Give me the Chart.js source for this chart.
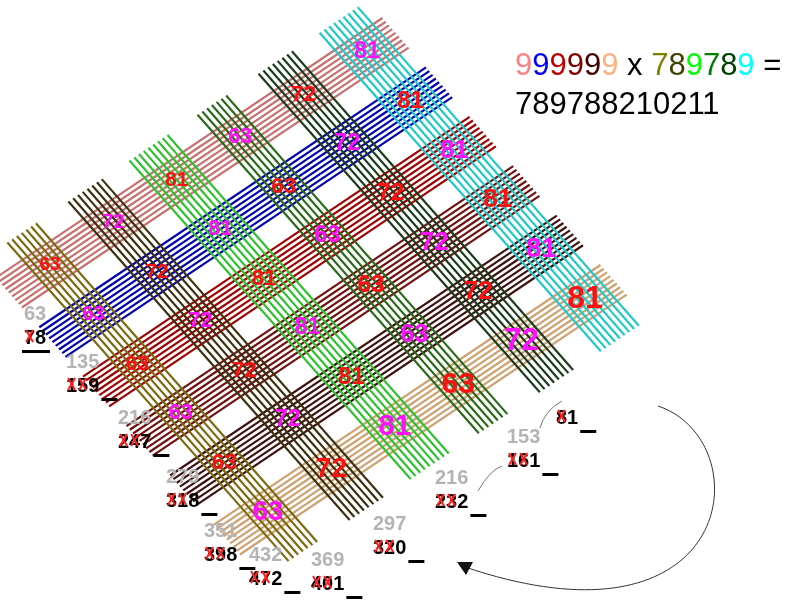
<!DOCTYPE html>
<html><head><meta charset="utf-8">
<script src="https://cdn.jsdelivr.net/npm/chart.js@4"></script>
<style>html,body{margin:0;background:#fff}canvas{display:block}</style>
</head><body>
<canvas id="c" width="800" height="609"></canvas>
<script>
// ── DATA ──
const topDigits    = [9, 9, 9, 9, 9, 9];
const bottomDigits = [7, 8, 9, 7, 8, 9];
const topColors    = ['#ff8080', '#0000ff', '#c00000', '#800000', '#400000', '#ffb080'];
const bottomColors = ['#808000', '#404000', '#00ff00', '#008000', '#004000', '#00ffff'];
const topLineColors    = ['#c87070', '#0000b0', '#a00000', '#701010', '#401010', '#d0a070'];
const bottomLineColors = ['#7a6a10', '#3c3210', '#30c030', '#2a6a1a', '#1c3c1c', '#20c8c8'];
const diagSums   = ['63', '135', '216', '279', '351', '432', '369', '297', '216', '153', ''];
const carried    = ['78', '159', '247', '318', '398', '472', '401', '320', '232', '161', '81'];
const answer     = '789788210211';
// label anchors for each diagonal (page pixels)
const sumPos = [[38,320],[80,368],[132,424],[180,483],[218,537],[263,561],[325,566],[387,530],[449,484],[521,443],[570,400]];

// ── GEOMETRY (grid in bundle units) ──
const O = [-3.5, 261.6], A = [63.4, -42.6], B = [43.6, 49.4];
const pt = (p, q) => ({ x: O[0] + p * A[0] + q * B[0], y: O[1] + p * A[1] + q * B[1] });
const lineOffset = k => 0.2 + k * 0.075;

const datasets = [];
bottomDigits.forEach((d, i) => {
  for (let k = 0; k < d; k++) {
    const p = i + lineOffset(k) + (9 - d) * 0.0375;
    datasets.push({ data: [pt(p, -0.15), pt(p, 6.3)], borderColor: bottomLineColors[i], order: 1 });
  }
});
topDigits.forEach((d, j) => {
  for (let k = 0; k < d; k++) {
    const q = j + lineOffset(k);
    datasets.push({ data: [pt(-0.15, q), pt(5.95, q)], borderColor: topLineColors[j], order: 2 });
  }
});
datasets.forEach(ds => Object.assign(ds, { showLine: true, pointRadius: 0, borderWidth: 2.2, fill: false }));

// ── TEXT & ARROWS ──
const overlay = {
  id: 'overlay',
  afterDatasetsDraw(chart) {
    const { ctx, scales: { x, y } } = chart;
    const px = p => [x.getPixelForValue(p.x), y.getPixelForValue(p.y)];
    ctx.save();
    ctx.textAlign = 'center';
    ctx.textBaseline = 'middle';
    // products in cells
    bottomDigits.forEach((bd, i) => topDigits.forEach((td, j) => {
      const [cx, cy] = px(pt(i + 0.5, j + 0.5));
      const size = 19 + (i + j) * 0.9 + (j === 5 ? 4 : 0);
      ctx.font = `bold ${size}px "Liberation Sans", Arial`;
      ctx.fillStyle = (i + j) % 2 === 0 ? '#ff1010' : '#ff10ff';
      ctx.fillText(String(bd * td), cx, cy);
    }));
    // equation
    ctx.textAlign = 'left';
    ctx.textBaseline = 'alphabetic';
    ctx.font = '31px "Liberation Sans", Arial';
    let tx = 515;
    const put = (s, c) => { ctx.fillStyle = c; ctx.fillText(s, tx, 75); tx += ctx.measureText(s).width; };
    topDigits.forEach((d, j) => put(String(d), topColors[j]));
    put(' x ', '#000');
    bottomDigits.forEach((d, i) => put(String(d), bottomColors[i]));
    put(' =', '#000');
    ctx.fillStyle = '#000';
    ctx.fillText(answer, 515, 114);
    // diagonal sums
    ctx.font = 'bold 20px "Liberation Sans", Arial';
    sumPos.forEach(([sx, sy], n) => {
      if (diagSums[n]) { ctx.fillStyle = '#b4b4b4'; ctx.fillText(diagSums[n], sx - 14, sy); }
      const s = carried[n], bx = sx - 14, by = sy + 24;
      ctx.fillStyle = '#000';
      ctx.fillText(s, bx, by);
      const cw = ctx.measureText('0').width;
      ctx.strokeStyle = '#ff2020'; ctx.lineWidth = 2;
      for (let c = 0; c < s.length - 1; c++) {
        const cx0 = bx + c * cw + 2, cx1 = bx + (c + 1) * cw - 2;
        ctx.beginPath();
        ctx.moveTo(cx0, by - 14); ctx.lineTo(cx1, by - 2);
        ctx.moveTo(cx1, by - 14); ctx.lineTo(cx0, by - 2);
        ctx.stroke();
      }
      ctx.fillStyle = '#000';
      const ux = n === 0 ? bx - 2 : bx + s.length * cw + 2;
      const uw = n === 0 ? 28 : 16;
      ctx.fillRect(ux, by + 6, uw, 3);
    });
    // arrows
    ctx.strokeStyle = '#333'; ctx.lineWidth = 1;
    ctx.beginPath();
    ctx.moveTo(658, 406);
    ctx.bezierCurveTo(760, 440, 740, 660, 465, 567);
    ctx.stroke();
    ctx.fillStyle = '#111';
    ctx.beginPath();
    ctx.moveTo(457, 562); ctx.lineTo(473, 562); ctx.lineTo(466, 575); ctx.closePath();
    ctx.fill();
    ctx.strokeStyle = '#777';
    ctx.beginPath(); ctx.moveTo(562, 401); ctx.quadraticCurveTo(545, 410, 540, 428); ctx.stroke();
    ctx.beginPath(); ctx.moveTo(502, 466); ctx.quadraticCurveTo(490, 470, 478, 491); ctx.stroke();
    ctx.restore();
  }
};

new Chart(document.getElementById('c'), {
  type: 'scatter',
  data: { datasets },
  options: {
    responsive: false,
    animation: false,
    layout: { padding: 0 },
    plugins: { legend: { display: false }, tooltip: { enabled: false } },
    scales: {
      x: { type: 'linear', min: 0, max: 800, display: false },
      y: { type: 'linear', min: 0, max: 609, reverse: true, display: false },
    },
  },
  plugins: [overlay],
});
</script>
</body></html>
